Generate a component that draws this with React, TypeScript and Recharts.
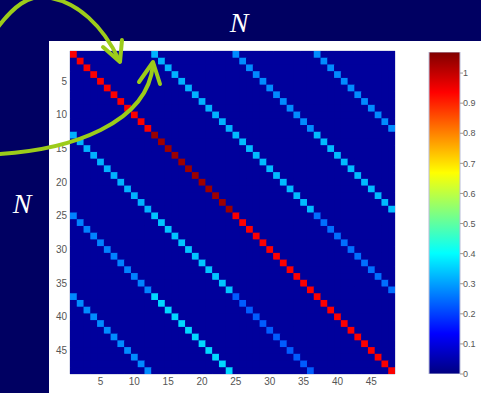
import React from "react";
import {
  ScatterChart,
  Scatter,
  XAxis,
  YAxis,
  ReferenceArea,
  BarChart,
  Bar,
} from "recharts";

// matrix is 48 x 48, made of 4 x 4 blocks of 12
const N = 48;
const BLOCK = 12;
// value on the diagonal of each block (row block, col block)
const blockValues = [
  [0.94, 0.32, 0.28, 0.28],
  [0.32, 1.04, 0.33, 0.33],
  [0.27, 0.34, 0.94, 0.25],
  [0.28, 0.36, 0.23, 0.94],
];
const offValue = 0.03;
const axisTicks = [5, 10, 15, 20, 25, 30, 35, 40, 45];
const colorTicks = [0, 0.1, 0.2, 0.3, 0.4, 0.5, 0.6, 0.7, 0.8, 0.9, 1];
const colorMax = 1.07;

const cells: { x: number; y: number; v: number }[] = [];
for (let i = 0; i < N; i++) {
  for (let j = 0; j < N; j++) {
    const onBand = (j - i) % BLOCK === 0;
    const v = onBand
      ? blockValues[Math.floor(i / BLOCK)][Math.floor(j / BLOCK)]
      : offValue;
    cells.push({ x: j + 1, y: i + 1, v });
  }
}

function jet(t: number) {
  const c = (x: number) => Math.max(0, Math.min(1, x));
  const r = c(Math.min(4 * t - 1.5, -4 * t + 4.5));
  const g = c(Math.min(4 * t - 0.5, -4 * t + 3.5));
  const b = c(Math.min(4 * t + 0.5, -4 * t + 2.5));
  const h = (x: number) => Math.round(x * 255).toString(16).padStart(2, "0");
  return "#" + h(r) + h(g) + h(b);
}

const PLOT_W = 325;
const PLOT_H = 323;
const CW = PLOT_W / N;
const CH = PLOT_H / N;

const CellShape = (props: any) => {
  const { cx, cy, payload } = props;
  return (
    <rect
      x={cx - CW / 2}
      y={cy - CH / 2}
      width={CW + 0.5}
      height={CH + 0.5}
      fill={jet(payload.v / colorMax)}
    />
  );
};

const tickStyle = { fontSize: 10, fill: "#555", fontFamily: "Liberation Sans, Arial, sans-serif" };
const gradStops = [0, 0.125, 0.25, 0.375, 0.5, 0.625, 0.75, 0.875, 1];

export default function App() {
  return (
    <div
      style={{
        position: "fixed",
        left: 0,
        top: 0,
        width: 481,
        height: 393,
        background: "#000062",
        overflow: "hidden",
      }}
    >
      <div
        style={{
          position: "absolute",
          left: 49,
          top: 41,
          width: 432,
          height: 352,
          background: "#fff",
        }}
      />
      <div style={{ position: "absolute", left: 0, top: 0 }}>
        <ScatterChart
          width={400}
          height={393}
          margin={{ top: 51, right: 5, bottom: 5, left: 0 }}
        >
          <XAxis
            type="number"
            dataKey="x"
            domain={[0.5, 48.5]}
            ticks={axisTicks}
            tickLine={false}
            axisLine={false}
            tickSize={0}
            tickMargin={4}
            height={14}
            tick={tickStyle}
            allowDataOverflow
          />
          <YAxis
            type="number"
            dataKey="y"
            reversed
            domain={[0.5, 48.5]}
            ticks={axisTicks}
            tickLine={false}
            axisLine={false}
            tickSize={0}
            tickMargin={3}
            width={70}
            tick={tickStyle}
            allowDataOverflow
          />
          <ReferenceArea
            x1={0.5}
            x2={48.5}
            y1={0.5}
            y2={48.5}
            fill={jet(offValue / colorMax)}
            fillOpacity={1}
            stroke="none"
          />
          <Scatter data={cells} shape={CellShape} isAnimationActive={false} />
          <ReferenceArea
            x1={0.5}
            x2={48.5}
            y1={0.5}
            y2={48.5}
            fill="none"
            stroke="#b8bcd8"
            strokeWidth={1}
          />
        </ScatterChart>
      </div>
      <div style={{ position: "absolute", left: 400, top: 0 }}>
        <BarChart
          width={81}
          height={393}
          data={[{ name: "c", v: colorMax }]}
          margin={{ top: 52, right: 0, bottom: 19, left: 29 }}
          barCategoryGap={0}
        >
          <defs>
            <linearGradient id="jetGrad" x1="0" y1="1" x2="0" y2="0">
              {gradStops.map((s) => (
                <stop key={s} offset={s} stopColor={jet(s)} />
              ))}
            </linearGradient>
          </defs>
          <XAxis dataKey="name" hide />
          <YAxis
            orientation="right"
            type="number"
            domain={[0, colorMax]}
            ticks={colorTicks}
            width={21}
            axisLine={false}
            tickSize={3}
            tickMargin={0}
            tickLine={{ stroke: "#999" }}
            tick={{ ...tickStyle, fontSize: 9 }}
            allowDataOverflow
          />
          <Bar
            dataKey="v"
            fill="url(#jetGrad)"
            stroke="#b8bcd8"
            isAnimationActive={false}
          />
        </BarChart>
      </div>
      <svg
        width={481}
        height={393}
        style={{ position: "absolute", left: 0, top: 0, pointerEvents: "none" }}
      >
        <g fill="none" stroke="#9ccc1a" strokeWidth={4} strokeLinecap="round" strokeLinejoin="round">
          <path d="M -2 27 C 14 6, 28 -4, 44 -3 C 78 0, 104 28, 119 60" />
          <polyline points="103,47 120,62 122,40" />
          <path d="M -2 154 C 70 150, 148 124, 153 64" />
          <polyline points="139,82 153,62 160,84" />
        </g>
        <text
          x={239}
          y={32}
          textAnchor="middle"
          fill="#fff"
          fontSize={28}
          fontStyle="italic"
          fontFamily="Liberation Serif, Times New Roman, serif"
        >
          N
        </text>
        <text
          x={22}
          y={213}
          textAnchor="middle"
          fill="#fff"
          fontSize={28}
          fontStyle="italic"
          fontFamily="Liberation Serif, Times New Roman, serif"
        >
          N
        </text>
      </svg>
    </div>
  );
}
